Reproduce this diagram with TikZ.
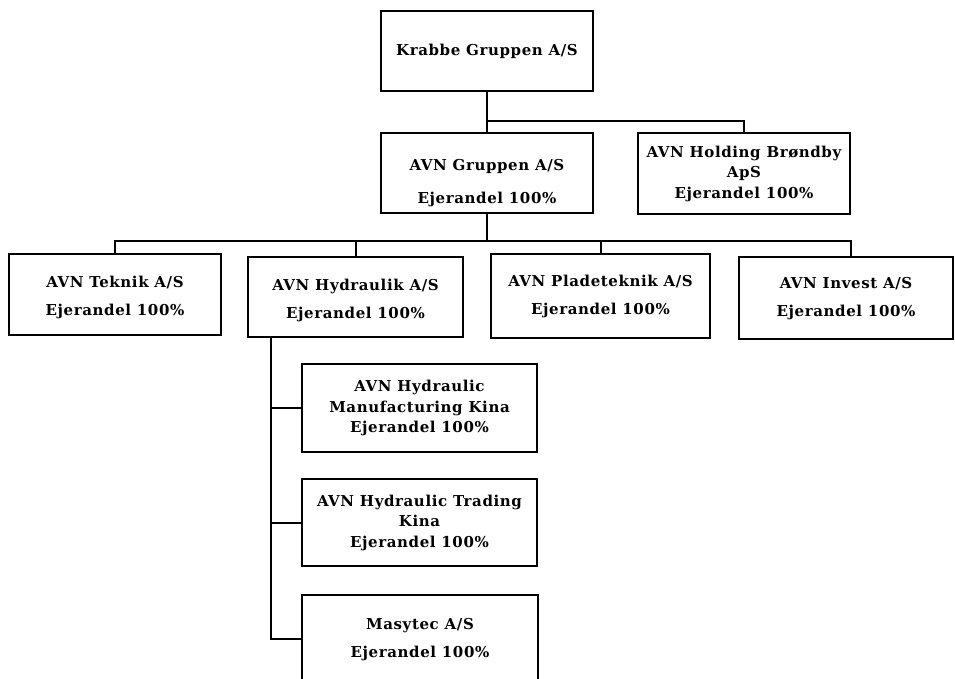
\documentclass[tikz,border=0pt]{standalone}
\usepackage{fontspec}
\setmainfont[LetterSpace=4]{DejaVu Serif}
\begin{document}
\begin{tikzpicture}[x=1pt, y=-1pt, line width=2pt]
        \tikzstyle{block} = [draw, rectangle, inner sep=2pt, minimum width=212pt, minimum height=80pt, font=\fontsize{15}{20.5}\selectfont\bfseries]
        \useasboundingbox (0,0) rectangle (955,679);

        \node [block] (krabbe) at (487,51) {Krabbe Gruppen A/S};
        \node [block] (gruppen) at (487,173) {%
          \begin{tabular}{c}
            \rule{0pt}{34.35pt}AVN Gruppen A/S\\[12.5pt]
            Ejerandel 100\%
          \end{tabular}
        };
        \node [block] (holding) at (744,173.5) {%
          \begin{tabular}{c}
            AVN Holding Brøndby\\
            ApS\\
            Ejerandel 100\%
          \end{tabular}
        };
        \node [block, minimum height=81pt] (teknik) at (115,294.5) {%
          \begin{tabular}{c}
            \rule{0pt}{20.35pt}AVN Teknik A/S\\[7.5pt]
            Ejerandel 100\%
          \end{tabular}
        };
        \node [block, minimum width=215pt] (hydraulik) at (355.5,297) {%
          \begin{tabular}{c}
            \rule{0pt}{20.35pt}AVN Hydraulik A/S\\[7.5pt]
            Ejerandel 100\%
          \end{tabular}
        };
        \node [block, minimum width=219pt, minimum height=84pt] (plade) at (600.5,296) {%
          \begin{tabular}{c}
            AVN Pladeteknik A/S\\[7.5pt]
            Ejerandel 100\%
          \end{tabular}
        };
        \node [block, minimum width=214pt, minimum height=82pt] (invest) at (846,298) {%
          \begin{tabular}{c}
            AVN Invest A/S\\[7.5pt]
            Ejerandel 100\%
          \end{tabular}
        };
        \node [block, minimum width=235pt, minimum height=88pt] (mfg) at (419.5,408) {%
          \begin{tabular}{c}
            AVN Hydraulic\\
            Manufacturing Kina\\
            Ejerandel 100\%
          \end{tabular}
        };
        \node [block, minimum width=235pt, minimum height=87pt] (trading) at (419.5,522.5) {%
          \begin{tabular}{c}
            AVN Hydraulic Trading\\
            Kina\\
            Ejerandel 100\%
          \end{tabular}
        };
        \node [block, minimum width=236pt, minimum height=88pt] (masytec) at (420,639) {%
          \begin{tabular}{c}
            Masytec A/S\\[7.5pt]
            Ejerandel 100\%
          \end{tabular}
        };

        \coordinate (split) at (487,121);
        \coordinate (bus) at (487,241);

        \draw (krabbe) -- (gruppen);
        \draw (split) -| (holding);
        \draw (gruppen) -- (bus);
        \draw (bus) -| (teknik);
        \draw (bus) -| (hydraulik);
        \draw (bus) -| (plade);
        \draw (bus) -| ([xshift=4.5pt]invest.north);
        \draw ([xshift=23.5pt]hydraulik.south west) |- (mfg);
        \draw ([xshift=23.5pt]hydraulik.south west) |- (trading);
        \draw ([xshift=23.5pt]hydraulik.south west) |- (masytec);
\end{tikzpicture}
\end{document}
